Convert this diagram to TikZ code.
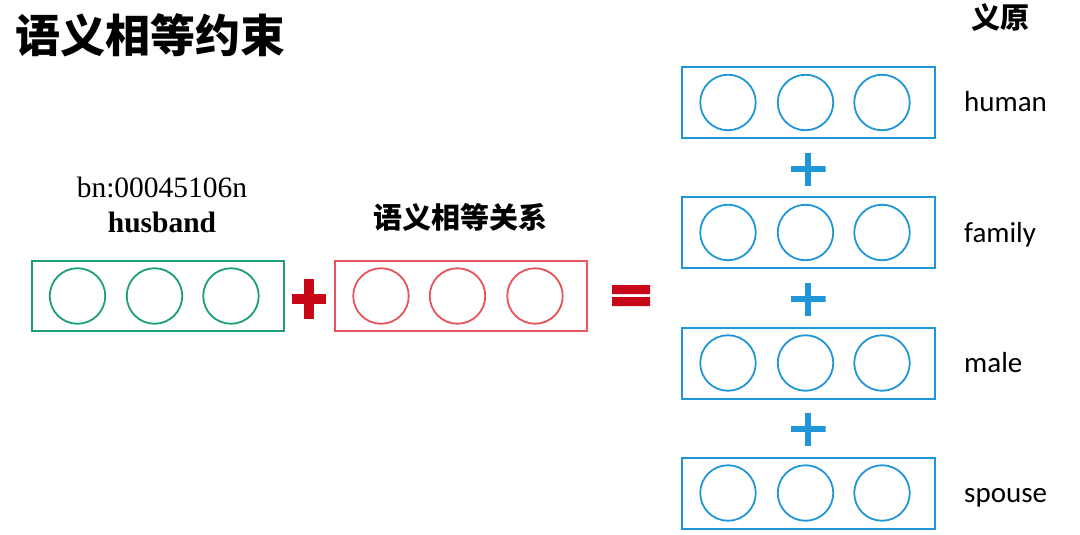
\documentclass[tikz,border=0pt]{standalone}
\usepackage{fontspec}
\setmainfont{Liberation Serif}
\newfontfamily\cjk{Noto Sans CJK SC}
\newfontfamily\labfont{Carlito}
\definecolor{vgreen}{RGB}{28,158,122}
\definecolor{vred}{RGB}{232,82,92}
\definecolor{pred}{RGB}{200,8,24}
\definecolor{vblue}{RGB}{30,150,215}
\tikzset{
  vecbox/.style={draw=#1, line width=2pt, minimum width=252pt, minimum height=70pt, inner sep=0pt},
  unit/.style={draw=#1, circle, line width=1.8pt, minimum size=55.5pt, inner sep=0pt},
  plussign/.style n args={4}{minimum width=#1, minimum height=#2, inner sep=0pt,
    path picture={\draw[#4, line width=#3]
      (path picture bounding box.west) -- (path picture bounding box.east)
      (path picture bounding box.north) -- (path picture bounding box.south);}},
  eqsign/.style={minimum width=38pt, minimum height=21pt, inner sep=0pt,
    path picture={\fill[pred]
      (path picture bounding box.north west) rectangle ([yshift=-9pt]path picture bounding box.north east)
      (path picture bounding box.south west) rectangle ([yshift=9pt]path picture bounding box.south east);}},
  lab/.style={font=\labfont\fontsize{29}{33}\selectfont, anchor=base west, inner sep=0pt}
}
\begin{document}
\begin{tikzpicture}[x=1pt,y=-1pt]
\useasboundingbox (0,0) rectangle (1080,535);
% title
\node[font=\cjk\bfseries\fontsize{45}{50}\selectfont, inner sep=0pt] (title) at (150.5,35) {语义相等约束};
\node[font=\cjk\bfseries\fontsize{29}{34}\selectfont, inner sep=0pt] (yiyuan) at (1000,18) {义原};
% left word vector
\node[font=\fontsize{29.5}{34}\selectfont, inner sep=0pt, anchor=base] (bn) at (162,197.5) {bn:00045106n};
\node[font=\bfseries\fontsize{29.5}{34}\selectfont, inner sep=0pt, anchor=base] (husband) at (162,232.5) {husband};
\node[vecbox=vgreen] (gbox) at (158,296) {};
\node[unit=vgreen] (g1) at (77.5,296) {};
\node[unit=vgreen] (g2) at (154.5,296) {};
\node[unit=vgreen] (g3) at (231,296) {};
% plus
\node[plussign={34pt}{40pt}{10pt}{pred}] (plusr) at (309,299) {};
% relation vector
\node[font=\cjk\bfseries\fontsize{29}{34}\selectfont, inner sep=0pt] (rel) at (460,217) {语义相等关系};
\node[vecbox=vred] (rbox) at (461,296) {};
\node[unit=vred] (r1) at (381,296) {};
\node[unit=vred] (r2) at (457.5,296) {};
\node[unit=vred] (r3) at (535,296) {};
% equals
\node[eqsign] (eq) at (631,295.5) {};
% sememes
\foreach \i/\y/\w in {1/102.5/human, 2/232.5/family, 3/363/male, 4/493/spouse}{
  \node[vecbox=vblue, minimum width=253pt, minimum height=71pt] (b\i) at (808.5,\y) {};
  \node[unit=vblue] (b\i c1) at (728,\y) {};
  \node[unit=vblue] (b\i c2) at (805.5,\y) {};
  \node[unit=vblue] (b\i c3) at (882,\y) {};
  \node[lab] (l\i) at (964,\y+9.5) {\w};
}
\foreach \i/\y in {1/169, 2/299, 3/429}{
  \node[plussign={35pt}{33pt}{6.5pt}{vblue}] (pb\i) at (808,\y) {};
}
\end{tikzpicture}
\end{document}
